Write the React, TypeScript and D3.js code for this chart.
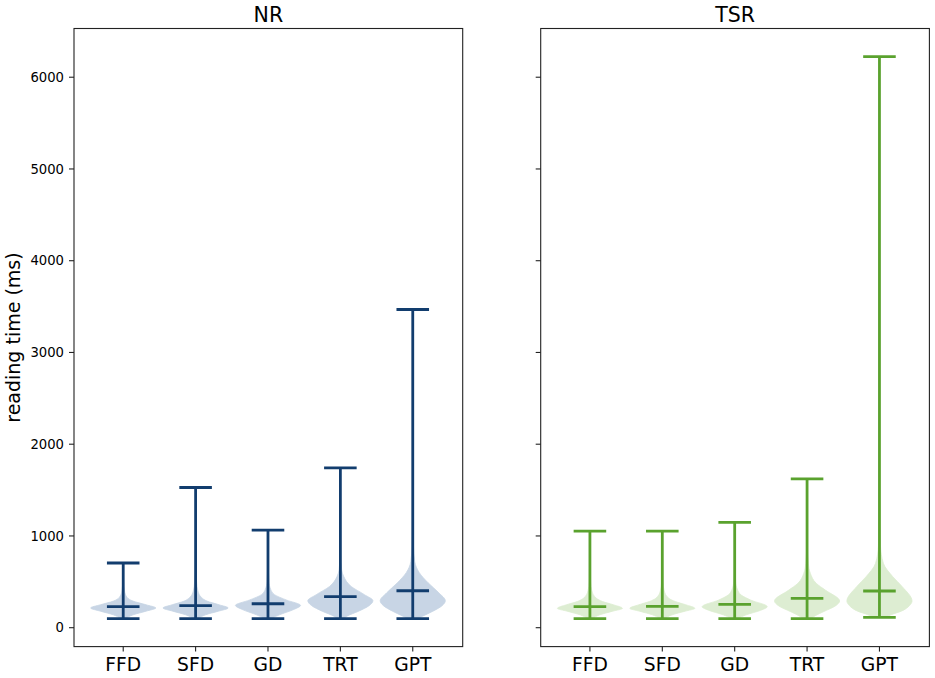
import React from "react";
import * as d3 from "d3";

// ---- data ----
const categories = ["FFD", "SFD", "GD", "TRT", "GPT"];
const panels = ["NR", "TSR"];

const nrMins = [100, 100, 100, 100, 100];
const nrMaxes = [705, 1528, 1064, 1743, 3468];
const nrMedians = [229, 240, 261, 338, 403];

const tsrMins = [100, 100, 100, 100, 113];
const tsrMaxes = [1053, 1053, 1148, 1623, 6225];
const tsrMedians = [229, 233, 255, 320, 400];

// violin profiles: [value (ms), relative half-width]
const nrProfiles: number[][][] = [
  [[100, 0.08], [140, 0.3], [180, 0.7], [215, 1], [250, 0.7], [290, 0.3], [330, 0.12], [400, 0.04], [500, 0.015], [705, 0]],
  [[100, 0.08], [140, 0.3], [180, 0.7], [215, 1], [250, 0.72], [290, 0.35], [330, 0.18], [400, 0.07], [500, 0.03], [700, 0.01], [1528, 0]],
  [[100, 0.1], [140, 0.35], [200, 0.8], [243, 1], [300, 0.58], [360, 0.2], [420, 0.08], [500, 0.03], [700, 0.01], [1064, 0]],
  [[100, 0.1], [125, 0.2], [180, 0.56], [240, 0.88], [294, 1], [360, 0.74], [450, 0.33], [560, 0.1], [630, 0.04], [800, 0.01], [1743, 0]],
  [[100, 0.15], [125, 0.3], [180, 0.62], [240, 0.9], [294, 1], [380, 0.8], [490, 0.47], [600, 0.2], [720, 0.06], [900, 0.02], [1200, 0.008], [3468, 0]],
];
const tsrProfiles: number[][][] = [
  [[100, 0.08], [140, 0.3], [180, 0.7], [211, 1], [250, 0.72], [285, 0.39], [320, 0.2], [400, 0.06], [500, 0.02], [700, 0.01], [1053, 0]],
  [[100, 0.08], [140, 0.3], [180, 0.7], [211, 1], [250, 0.72], [285, 0.4], [320, 0.2], [400, 0.06], [500, 0.02], [700, 0.01], [1053, 0]],
  [[100, 0.1], [140, 0.35], [190, 0.8], [229, 1], [300, 0.5], [356, 0.2], [420, 0.08], [500, 0.03], [700, 0.01], [1148, 0]],
  [[100, 0.12], [130, 0.25], [174, 0.5], [240, 0.88], [291, 1], [410, 0.56], [484, 0.28], [593, 0.1], [700, 0.04], [900, 0.01], [1623, 0]],
  [[113, 0.2], [140, 0.35], [180, 0.67], [240, 0.92], [291, 1], [447, 0.7], [556, 0.41], [702, 0.12], [900, 0.03], [1300, 0.008], [6225, 0]],
];

const yTicks = [0, 1000, 2000, 3000, 4000, 5000, 6000];

const lineColors = ["#123d6e", "#5aa22e"];
const fillColors = ["#c8d5e5", "#ddedd2"];

const W = 935;
const H = 678;
const axTop = 28.5;
const axBottom = 646.6;
const axLefts = [74, 540.7];
const axWidth = 388.7;
const font = "DejaVu Sans, sans-serif";

export default function App() {
  const y = d3.scaleLinear().domain([-206, 6531]).range([axBottom, axTop]);
  const data = [
    { mins: nrMins, maxes: nrMaxes, medians: nrMedians, profiles: nrProfiles },
    { mins: tsrMins, maxes: tsrMaxes, medians: tsrMedians, profiles: tsrProfiles },
  ];
  const widths = 0.9;

  return (
    <svg width={W} height={H} style={{ position: "absolute", left: 0, top: 0, background: "#fff" }} fontFamily={font}>
      <rect x={0} y={0} width={W} height={H} fill="#fff" />
      {panels.map((title, pi) => {
        const left = axLefts[pi];
        const x = d3.scaleLinear().domain([0.32, 5.69]).range([left, left + axWidth]);
        const hw = x(1 + widths / 2) - x(1);
        const capHalf = x(1 + widths / 4) - x(1);
        const d = data[pi];
        return (
          <g key={title}>
            {categories.map((c, i) => {
              const cx = x(i + 1);
              const area = d3
                .area<number[]>()
                .y((p) => y(p[0]))
                .x0((p) => cx - hw * p[1])
                .x1((p) => cx + hw * p[1])
                .curve(d3.curveMonotoneY);
              return (
                <path key={"v" + c} d={area(d.profiles[i]) || ""} fill={fillColors[pi]} stroke={fillColors[pi]} strokeWidth={0.8} />
              );
            })}
            {categories.map((c, i) => {
              const cx = x(i + 1);
              const col = lineColors[pi];
              const sw = 2.8;
              return (
                <g key={"w" + c} stroke={col} strokeWidth={sw}>
                  <line x1={cx} x2={cx} y1={y(d.mins[i])} y2={y(d.maxes[i])} />
                  <line x1={cx - capHalf} x2={cx + capHalf} y1={y(d.mins[i])} y2={y(d.mins[i])} />
                  <line x1={cx - capHalf} x2={cx + capHalf} y1={y(d.maxes[i])} y2={y(d.maxes[i])} />
                  <line x1={cx - capHalf} x2={cx + capHalf} y1={y(d.medians[i])} y2={y(d.medians[i])} />
                </g>
              );
            })}
            <rect x={left} y={axTop} width={axWidth} height={axBottom - axTop} fill="none" stroke="#222" strokeWidth={1.1} />
            {yTicks.map((t) => (
              <g key={"yt" + t}>
                <line x1={left - 5} x2={left} y1={y(t)} y2={y(t)} stroke="#222" strokeWidth={1.1} />
                {pi === 0 && (
                  <text x={left - 10} y={y(t)} dy="0.35em" textAnchor="end" fontSize={13.2} fill="#000">
                    {t}
                  </text>
                )}
              </g>
            ))}
            {categories.map((c, i) => (
              <g key={"xt" + c}>
                <line x1={x(i + 1)} x2={x(i + 1)} y1={axBottom} y2={axBottom + 5} stroke="#222" strokeWidth={1.1} />
                <text x={x(i + 1)} y={671} textAnchor="middle" fontSize={18.7} fill="#000">
                  {c}
                </text>
              </g>
            ))}
            <text x={left + axWidth / 2} y={21.7} textAnchor="middle" fontSize={20.5} fill="#000">
              {title}
            </text>
          </g>
        );
      })}
      <text transform={`translate(20,${(axTop + axBottom) / 2}) rotate(-90)`} textAnchor="middle" fontSize={19} fill="#000">
        reading time (ms)
      </text>
    </svg>
  );
}
